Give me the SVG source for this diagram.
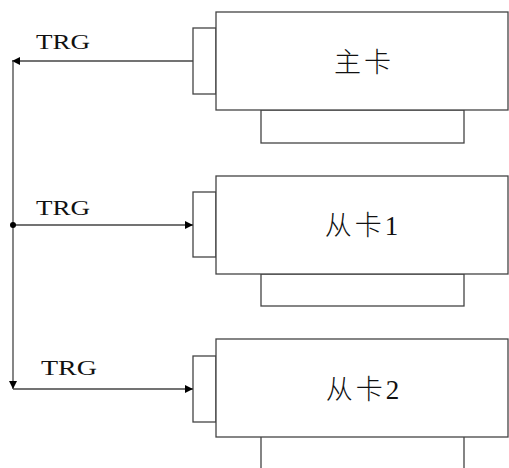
<svg xmlns="http://www.w3.org/2000/svg" width="509" height="468" viewBox="0 0 509 468">
<defs>
<marker id="ah" viewBox="0 0 10 10" refX="10" refY="5" markerWidth="15" markerHeight="8" markerUnits="userSpaceOnUse" orient="auto">
<path d="M0,0 L10,5 L0,10 z" fill="#000"/>
</marker>
</defs>
<style>
.b{fill:#fff;stroke:#444;stroke-width:1.3}
.l{fill:none;stroke:#444;stroke-width:1.3}
.t{font-family:"Liberation Serif","Noto Sans CJK SC",serif;font-size:21px;fill:#111}
.c{font-family:"Liberation Serif","Noto Sans CJK SC",serif;font-size:27px;font-weight:300;fill:#111;text-anchor:middle;letter-spacing:3px}
</style>
<g id="card-main">
<rect class="b" x="261" y="110" width="203" height="33"/>
<rect class="b" x="193" y="28" width="23" height="66"/>
<rect class="b" x="216" y="12" width="292" height="98"/>
<text class="c" x="364" y="72">主卡</text>
</g>
<g id="card-slave1">
<rect class="b" x="261" y="274" width="203" height="32"/>
<rect class="b" x="193" y="192" width="23" height="65"/>
<rect class="b" x="216" y="176" width="292" height="98"/>
<text class="c" x="363" y="235">从卡1</text>
</g>
<g id="card-slave2">
<path class="l" d="M261,437 V468 M464,437 V468"/>
<rect class="b" x="193" y="356" width="23" height="66"/>
<rect class="b" x="216" y="339" width="292" height="98"/>
<text class="c" x="364" y="399">从卡2</text>
</g>
<g id="connectors">
<path class="l" d="M193,61 H12" marker-end="url(#ah)"/>
<path class="l" d="M13,61 V389" marker-end="url(#ah)"/>
<path class="l" d="M13,225 H193" marker-end="url(#ah)"/>
<path class="l" d="M13,389 H193" marker-end="url(#ah)"/>
<circle cx="13" cy="225" r="3" fill="#000"/>
<text class="t" x="36" y="49" textLength="54" lengthAdjust="spacingAndGlyphs">TRG</text>
<text class="t" x="36" y="215" textLength="54" lengthAdjust="spacingAndGlyphs">TRG</text>
<text class="t" x="41" y="375" textLength="56" lengthAdjust="spacingAndGlyphs">TRG</text>
</g>
</svg>
